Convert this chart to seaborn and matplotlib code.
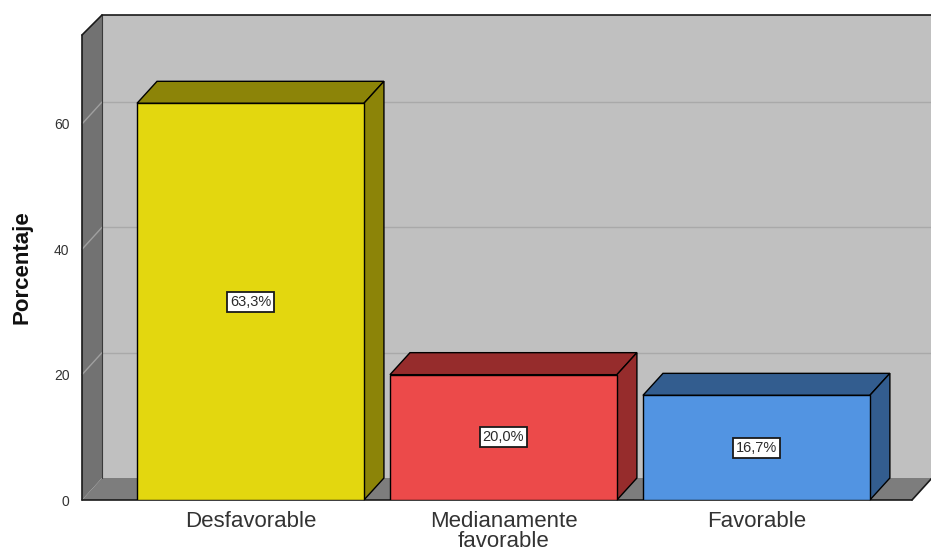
import matplotlib
matplotlib.use("Agg")
import matplotlib.pyplot as plt
from matplotlib.patches import Polygon
import seaborn as sns
import pandas as pd

categories = ["Desfavorable", "Medianamente\nfavorable", "Favorable"]
values = [63.3, 20.0, 16.7]
value_labels = ["63,3%", "20,0%", "16,7%"]
y_ticks = [0, 20, 40, 60]
y_label = "Porcentaje"

front_colors = ["#E3D70F", "#EC4A4A", "#5294E2"]
dark_colors = ["#8C8408", "#962C2C", "#335D8F"]

sns.set_theme(style="white")
plt.rcParams["font.family"] = ["Liberation Sans", "DejaVu Sans"]

W, H, DPI = 931, 556, 100
fig = plt.figure(figsize=(W / DPI, H / DPI), dpi=DPI)

# front plane: x 82..912 px, y 35..500 px (from top)
ax = fig.add_axes([82 / W, (H - 500) / H, (912 - 82) / W, (500 - 35) / H])
xmin, xmax = -0.666, 2.615
ymin, ymax = 0, 74.2

px_x = (xmax - xmin) / (912 - 82)
px_y = (ymax - ymin) / (500 - 35)
dx = 20 * px_x
dy = 22 * px_y

df = pd.DataFrame({"cat": categories, "val": values})
sns.barplot(data=df, x="cat", y="val", hue="cat", palette=front_colors,
            saturation=1, width=0.897, edgecolor="black", linewidth=1.0,
            legend=False, ax=ax, zorder=5)
ax.set_xlim(xmin, xmax)
ax.set_ylim(ymin, ymax)
bars = list(ax.patches)

wall_right = xmax + 19 * px_x + 0.2
# back wall
back = Polygon([(xmin + dx, dy), (wall_right, dy), (wall_right, ymax + 20 * px_y),
                (xmin + dx, ymax + 20 * px_y)], closed=True, facecolor="#C0C0C0",
               edgecolor="none", zorder=0, clip_on=False)
ax.add_patch(back)
for t in y_ticks[1:]:
    ax.plot([xmin + dx, wall_right], [t + dy, t + dy], color="#A9A9A9", lw=1.0,
            zorder=1, clip_on=False)
# floor
floor = Polygon([(xmin, 0), (xmax, 0), (xmax + dx, dy), (xmin + dx, dy)], closed=True,
                facecolor="#7D7D7D", edgecolor="none", zorder=2, clip_on=False)
ax.add_patch(floor)
# left wall
left = Polygon([(xmin, 0), (xmin + dx, dy), (xmin + dx, ymax + 20 * px_y),
                (xmin, ymax)], closed=True, facecolor="#727272",
               edgecolor="none", zorder=2, clip_on=False)
ax.add_patch(left)
for t in y_ticks[1:]:
    ax.plot([xmin, xmin + dx], [t, t + dy], color="#A0A0A0", lw=1.0, zorder=3,
            clip_on=False)
# outline edges
kw = dict(color="#1A1A1A", lw=1.2, zorder=4, clip_on=False)
ax.plot([xmin, xmin], [0, ymax], **kw)
ax.plot([xmin, xmin + dx], [ymax, ymax + 20 * px_y], **kw)
ax.plot([xmin + dx, wall_right], [ymax + 20 * px_y, ymax + 20 * px_y], **kw)
ax.plot([xmin, xmax], [0, 0], **kw)
ax.plot([xmax, xmax + dx], [0, dy], **kw)
ax.plot([xmin + dx, xmin + dx], [dy, ymax + 20 * px_y], color="#3A3A3A", lw=0.8,
        zorder=3, clip_on=False)

# 3D faces of bars
for i, p in enumerate(bars):
    x0 = p.get_x()
    x1 = x0 + p.get_width()
    h = p.get_height()
    top = Polygon([(x0, h), (x0 + dx, h + dy), (x1 + dx, h + dy), (x1, h)],
                  closed=True, facecolor=dark_colors[i], edgecolor="black",
                  linewidth=1.0, zorder=4.5, clip_on=False)
    side = Polygon([(x1, 0), (x1 + dx, dy), (x1 + dx, h + dy), (x1, h)],
                   closed=True, facecolor=dark_colors[i], edgecolor="black",
                   linewidth=1.0, zorder=4.5, clip_on=False)
    ax.add_patch(top)
    ax.add_patch(side)
    ax.text(x0 + p.get_width() / 2, h / 2, value_labels[i], ha="center", va="center",
            fontsize=10.5, color="#2A2A2A", zorder=7,
            bbox=dict(boxstyle="square,pad=0.2", facecolor="white",
                      edgecolor="#1A1A1A", linewidth=1.3))

for s in ax.spines.values():
    s.set_visible(False)
ax.set_facecolor("none")
ax.set_yticks(y_ticks)
ax.set_yticklabels([str(t) for t in y_ticks])
ax.tick_params(axis="y", length=0, pad=9, labelsize=10, labelcolor="#333333")
ax.set_xticks(range(len(categories)))
ax.set_xticklabels(categories, linespacing=0.95)
ax.tick_params(axis="x", length=0, pad=8, labelsize=16, labelcolor="#333333")
ax.set_xlabel("")
ax.set_ylabel(y_label, fontsize=16, fontweight="bold", color="#111111")
ax.yaxis.set_label_coords(-0.06, 0.5)

fig.savefig("out.png", dpi=DPI)
